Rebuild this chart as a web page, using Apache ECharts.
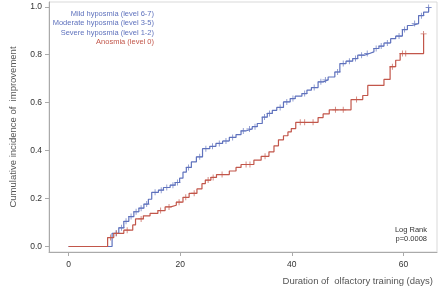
<!DOCTYPE html>
<html><head><meta charset="utf-8">
<script src="https://cdn.jsdelivr.net/npm/echarts@6/dist/echarts.min.js"></script>
<style>html,body{margin:0;padding:0;background:#fff}#c{width:440px;height:288px}</style>
</head><body><div id="c"></div>
<script>
// Hyposmia (levels 1-7) combined curve
const hypoDays = [0,7.8,9.0,9.9,10.8,11.7,12.6,13.5,14.3,14.9,16.1,17.0,18.2,19.1,19.9,20.5,21.1,22.0,22.9,24.0,25.3,26.4,27.6,28.8,30.0,30.9,31.7,32.9,33.8,34.7,35.6,36.5,37.3,38.5,39.7,40.6,41.8,42.7,43.5,44.7,45.6,46.5,47.7,48.6,49.7,50.9,51.8,53.0,53.9,54.7,55.6,56.5,57.7,58.6,59.8,60.7,61.5,62.7,63.6,64.5];
const hypoVals = [0,0.055,0.078,0.105,0.125,0.145,0.160,0.177,0.197,0.226,0.235,0.246,0.256,0.267,0.285,0.310,0.330,0.353,0.374,0.408,0.418,0.430,0.440,0.455,0.467,0.482,0.490,0.500,0.513,0.540,0.555,0.568,0.580,0.603,0.617,0.627,0.638,0.652,0.663,0.687,0.695,0.707,0.728,0.763,0.773,0.784,0.798,0.805,0.812,0.826,0.836,0.849,0.867,0.878,0.905,0.922,0.930,0.963,0.978,0.997];
const hypoCensor = [8.5,9.5,10.3,11.2,12.1,13.0,14.0,15.5,16.6,17.6,18.7,19.5,21.5,23.5,24.6,25.8,27.0,28.2,29.4,31.3,32.4,33.4,35.1,36.0,37.9,39.1,40.2,42.3,44.0,45.2,46.0,48.2,49.2,50.3,51.4,52.5,53.5,55.1,56.0,57.1,59.2,60.2,62.0,63.2,64.5];
// Anosmia (level 0)
const anosDays = [0,7.0,8.1,9.9,11.5,12.0,13.4,14.6,16.0,17.3,18.3,19.3,20.5,21.6,23.0,23.9,24.5,25.5,26.5,28.8,30.0,30.9,33.2,34.5,35.9,36.8,37.6,38.5,39.3,39.9,40.7,44.7,45.6,46.7,50.6,52.7,53.6,56.5,57.6,58.6,59.4,63.6];
const anosVals = [0,0.037,0.055,0.068,0.090,0.115,0.128,0.138,0.150,0.165,0.172,0.185,0.205,0.222,0.240,0.262,0.277,0.288,0.300,0.315,0.330,0.342,0.360,0.376,0.395,0.420,0.445,0.462,0.478,0.492,0.518,0.538,0.553,0.570,0.613,0.630,0.672,0.697,0.750,0.777,0.805,0.887];
const anosCensor = [7.5,8.6,10.5,13.0,16.5,18.0,19.8,21.0,22.5,25.0,25.9,27.5,31.8,32.5,35.2,41.5,42.3,43.8,47.8,49.2,51.6,58.0,59.8,60.4,63.6];
const xTicks = [0,20,40,60];
const yTicks = [0,0.2,0.4,0.6,0.8,1.0];
const legendLabels = ['Mild hyposmia (level 6-7)','Moderate hyposmia (level 3-5)','Severe hyposmia (level 1-2)','Anosmia (level 0)'];
const legendGroup = [0,0,0,1];
const statLabels = ['Log Rank','p=0.0008'];
const xTitle = 'Duration of  olfactory training (days)';
const yTitle = 'Cumulative incidence of  improvement';

const BLUE = '#5f72bd', RED = '#c2564a';
const colors = [BLUE, RED];
const FONT = 'Liberation Sans, Arial, sans-serif';

function pairs(d, v){ return d.map((x,i)=>[x, v[i]]); }
function stepAt(days, vals, t){ let r = vals[0]; for (let i=0;i<days.length;i++){ if (days[i] <= t) r = vals[i]; } return r; }
const plus = 'path://M-0.14,-1 H0.14 V-0.14 H1 V0.14 H0.14 V1 H-0.14 V0.14 H-1 V-0.14 H-0.14 Z';

const chart = echarts.init(document.getElementById('c'), null, {renderer:'canvas'});
chart.setOption({
  animation:false,
  grid:{left:44, top:2, right:3, bottom:36, show:true, borderColor:'#d9d9d9', borderWidth:1},
  xAxis:{type:'value', min:-3.5, max:66,
    name:xTitle, nameLocation:'end', nameGap:-4,
    nameTextStyle:{fontFamily:FONT, fontSize:9.5, color:'#555', align:'right', verticalAlign:'top', padding:[24,0,0,0]},
    axisLine:{show:true, onZero:false, lineStyle:{color:'#aaaaaa'}},
    axisTick:{show:true, length:4, customValues:xTicks, lineStyle:{color:'#aaaaaa'}},
    axisLabel:{customValues:xTicks, margin:8, fontFamily:FONT, fontSize:8.5, color:'#333'},
    splitLine:{show:false}},
  yAxis:{type:'value', min:-0.023, max:1.02,
    name:yTitle, nameLocation:'middle', nameGap:31,
    nameTextStyle:{fontFamily:FONT, fontSize:9.5, color:'#555'},
    axisLine:{show:true, onZero:false, lineStyle:{color:'#aaaaaa'}},
    axisTick:{show:true, length:4, customValues:yTicks, lineStyle:{color:'#aaaaaa'}},
    axisLabel:{customValues:yTicks, margin:7, fontFamily:FONT, fontSize:8.5, color:'#333', formatter:v=>v.toFixed(1)},
    splitLine:{show:false}},
  series:[
    {type:'line', name:'Hyposmia', step:'end', data:pairs(hypoDays,hypoVals), showSymbol:false, lineStyle:{color:BLUE, width:1.2}, z:2},
    {type:'scatter', data:hypoCensor.map(t=>[t, stepAt(hypoDays,hypoVals,t)]), symbol:plus, symbolSize:6, itemStyle:{color:BLUE}, z:3},
    {type:'line', name:'Anosmia', step:'end', data:pairs(anosDays,anosVals), showSymbol:false, lineStyle:{color:RED, width:1.2}, z:4},
    {type:'scatter', data:anosCensor.map(t=>[t, stepAt(anosDays,anosVals,t)]), symbol:plus, symbolSize:6, itemStyle:{color:RED}, z:5}
  ],
  graphic:[
    ...legendLabels.map((s,i)=>({type:'text', right:286, top:10+i*9.4, style:{text:s, fill:colors[legendGroup[i]], font:'7.5px '+FONT, textAlign:'right'}})),
    ...statLabels.map((s,i)=>({type:'text', right:13, top:226+i*9, style:{text:s, fill:'#333', font:'7.5px '+FONT, textAlign:'right'}}))
  ]
});
</script></body></html>
